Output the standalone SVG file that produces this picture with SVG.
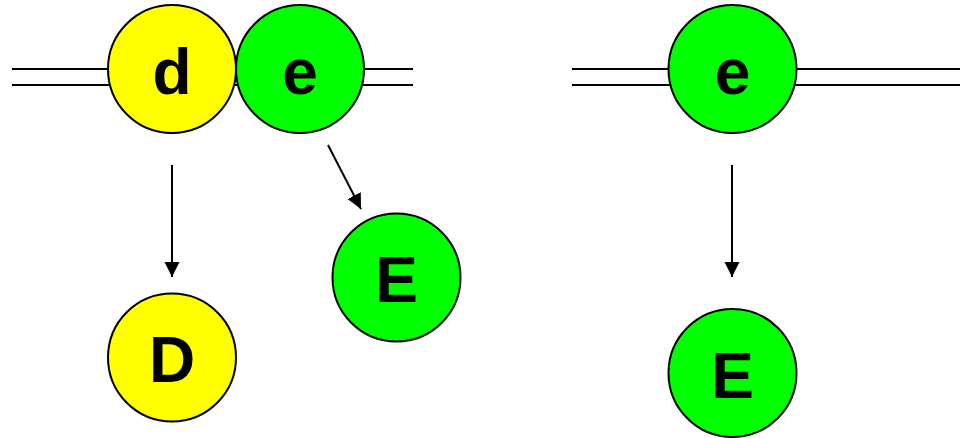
<svg xmlns="http://www.w3.org/2000/svg" width="960" height="438" viewBox="0 0 960 438">
<style>
.rail{stroke:#000;stroke-width:2;fill:none}
.yel{fill:#ffff00;stroke:#000;stroke-width:2}
.grn{fill:#00ff00;stroke:#000;stroke-width:2}
.lbl{font-family:"Liberation Sans",Arial,sans-serif;font-weight:bold;font-size:64px;text-anchor:middle;fill:#000}
.arr{stroke:#000;stroke-width:2;fill:none;marker-end:url(#ah)}
</style>
<defs>
<marker id="ah" markerUnits="userSpaceOnUse" markerWidth="16" markerHeight="16" viewBox="0 0 16 16" refX="15" refY="8" orient="auto">
<path d="M0,0.5 L15,8 L0,15.5 Z" fill="#000"/>
</marker>
</defs>
<g id="rails">
<line class="rail" x1="12" y1="69" x2="413" y2="69"/>
<line class="rail" x1="12" y1="85" x2="413" y2="85"/>
<line class="rail" x1="572" y1="69" x2="960" y2="69"/>
<line class="rail" x1="572" y1="85" x2="960" y2="85"/>
</g>
<g id="connectors">
<line class="arr" x1="172" y1="165" x2="172" y2="277"/>
<line class="arr" x1="328" y1="145" x2="361" y2="209"/>
<line class="arr" x1="732" y1="165" x2="732" y2="277"/>
</g>
<g id="node-d">
<circle class="yel" cx="172" cy="69" r="64"/>
<text class="lbl" x="172" y="94">d</text>
</g>
<g id="node-e1">
<circle class="grn" cx="300" cy="69" r="64"/>
<text class="lbl" x="300" y="94">e</text>
</g>
<g id="node-E1">
<circle class="grn" cx="396.5" cy="277.5" r="64"/>
<text class="lbl" x="396.5" y="302">E</text>
</g>
<g id="node-D">
<circle class="yel" cx="172" cy="357.5" r="64"/>
<text class="lbl" x="172" y="382">D</text>
</g>
<g id="node-e2">
<circle class="grn" cx="732.5" cy="69" r="64"/>
<text class="lbl" x="732.5" y="94">e</text>
</g>
<g id="node-E2">
<circle class="grn" cx="732.5" cy="373" r="64"/>
<text class="lbl" x="732.5" y="398">E</text>
</g>
</svg>
